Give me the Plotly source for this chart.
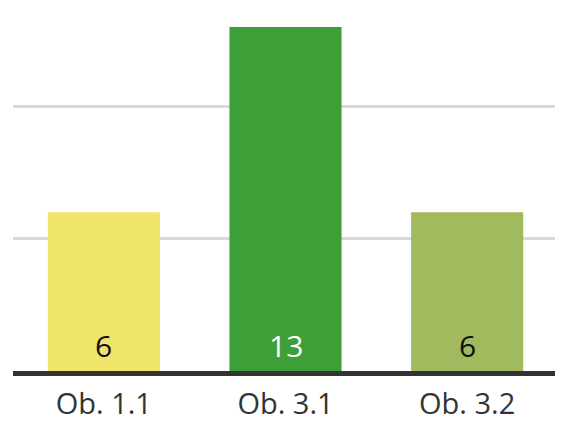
import plotly.graph_objects as go

categories = ["Ob. 1.1", "Ob. 3.1", "Ob. 3.2"]
values = [6, 13, 6]
bar_colors = ["#F0E56B", "#3E9E38", "#A2BA5E"]
label_colors = ["#111111", "#FFFFFF", "#111111"]

fig = go.Figure(go.Bar(
    x=categories, y=values,
    marker=dict(color=bar_colors, line=dict(width=0)),
    hoverinfo="skip",
))

for c, v, lc in zip(categories, values, label_colors):
    fig.add_annotation(x=c, y=0, text=str(v), showarrow=False,
                       yanchor="bottom", yshift=3,
                       font=dict(family="Open Sans, sans-serif", size=30, color=lc))

fig.update_layout(
    width=555, height=413,
    margin=dict(l=5, r=5, t=0, b=50),
    paper_bgcolor="white", plot_bgcolor="white",
    bargap=0.383,
    showlegend=False,
    font=dict(family="Open Sans, sans-serif", size=30, color="#333333"),
)
fig.update_xaxes(showline=True, linewidth=5, linecolor="#333333",
                 showgrid=False, ticks="", tickfont=dict(size=29, color="#333333"),
                 ticklabelstandoff=3, automargin=False)
fig.update_yaxes(range=[0, 13.72], tickvals=[5, 10], showticklabels=False,
                 showgrid=True, gridcolor="#D9D9D9", gridwidth=3,
                 zeroline=False, showline=False, automargin=False)

fig.write_html("out.html")
